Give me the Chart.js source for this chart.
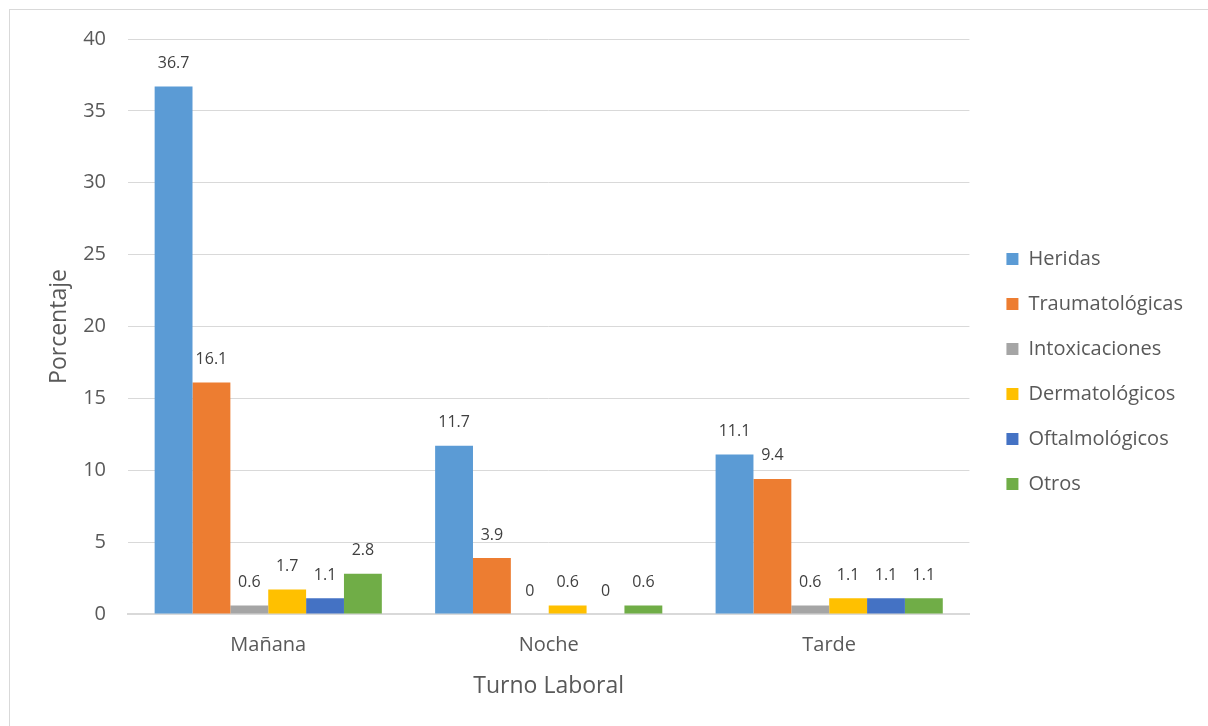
<!DOCTYPE html>
<html>
<head>
<meta charset="utf-8">
<script src="https://cdn.jsdelivr.net/npm/chart.js@4/dist/chart.umd.min.js"></script>
<style>
  html, body { margin: 0; padding: 0; background: #fff; overflow: hidden; }
  #frame { position: absolute; left: 9px; top: 9px; width: 1400px; height: 900px; border: 1px solid #d9d9d9; }
  #wrap { position: absolute; left: 0; top: 0; width: 1208px; height: 726px; }
</style>
</head>
<body>
<div id="frame"></div>
<div id="wrap"><canvas id="chart"></canvas></div>
<script>
// datos del gráfico
const turnos = ['Mañana', 'Noche', 'Tarde'];
const heridas = [36.7, 11.7, 11.1];
const traumatologicas = [16.1, 3.9, 9.4];
const intoxicaciones = [0.6, 0, 0.6];
const dermatologicos = [1.7, 0.6, 1.1];
const oftalmologicos = [1.1, 0, 1.1];
const otros = [2.8, 0.6, 1.1];

const fuente = '"Open Sans", "DejaVu Sans", sans-serif';

// etiquetas de valor encima de cada barra
const valueLabels = {
    id: 'valueLabels',
    afterDatasetsDraw(chart) {
        const ctx = chart.ctx;
        ctx.save();
        ctx.font = '16px ' + fuente;
        ctx.fillStyle = '#404040';
        ctx.textAlign = 'center';
        ctx.textBaseline = 'middle';
        chart.data.datasets.forEach((ds, i) => {
            chart.getDatasetMeta(i).data.forEach((bar, j) => {
                ctx.fillText(String(ds.data[j]), bar.x, bar.y - 23);
            });
        });
        ctx.restore();
    }
};

// separa un poco la leyenda del área del gráfico
const legendShift = {
    id: 'legendShift',
    afterLayout(chart) {
        const lg = chart.legend;
        if (lg) {
            lg.left += 12;
            lg.right += 12;
        }
    }
};

const ctx = document.getElementById('chart').getContext('2d');
new Chart(ctx, {
    type: 'bar',
    data: {
        labels: turnos,
        datasets: [
            { label: 'Heridas', data: heridas, backgroundColor: '#5B9BD5' },
            { label: 'Traumatológicas', data: traumatologicas, backgroundColor: '#ED7D31' },
            { label: 'Intoxicaciones', data: intoxicaciones, backgroundColor: '#A5A5A5' },
            { label: 'Dermatológicos', data: dermatologicos, backgroundColor: '#FFC000' },
            { label: 'Oftalmológicos', data: oftalmologicos, backgroundColor: '#4472C4' },
            { label: 'Otros', data: otros, backgroundColor: '#70AD47' }
        ]
    },
    options: {
        responsive: true,
        maintainAspectRatio: false,
        animation: false,
        categoryPercentage: 0.81,
        barPercentage: 1.0,
        layout: { padding: { left: 42, top: 39, right: 27, bottom: 22 } },
        plugins: {
            tooltip: { enabled: false },
            legend: {
                position: 'right',
                labels: {
                    boxWidth: 12,
                    boxHeight: 12,
                    padding: 25,
                    color: '#595959',
                    font: { family: fuente, size: 20 }
                }
            }
        },
        scales: {
            x: {
                afterFit(scale) { scale.height = 90; },
                grid: { display: false, drawTicks: false },
                border: { color: '#d9d9d9', width: 2 },
                ticks: { color: '#595959', font: { family: fuente, size: 20 }, padding: 19 },
                title: { display: true, text: 'Turno Laboral', color: '#595959', font: { family: fuente, size: 23 }, padding: { top: 4, bottom: 4 } }
            },
            y: {
                min: 0,
                max: 40,
                afterFit(scale) { scale.width = 86; },
                grid: { color: '#d9d9d9', drawTicks: false },
                border: { display: false },
                ticks: { stepSize: 5, color: '#595959', font: { family: fuente, size: 20 }, padding: 22 },
                title: { display: true, text: 'Porcentaje', color: '#595959', font: { family: fuente, size: 23 }, padding: { top: 4, bottom: 4 } }
            }
        }
    },
    plugins: [valueLabels, legendShift]
});
</script>
</body>
</html>
